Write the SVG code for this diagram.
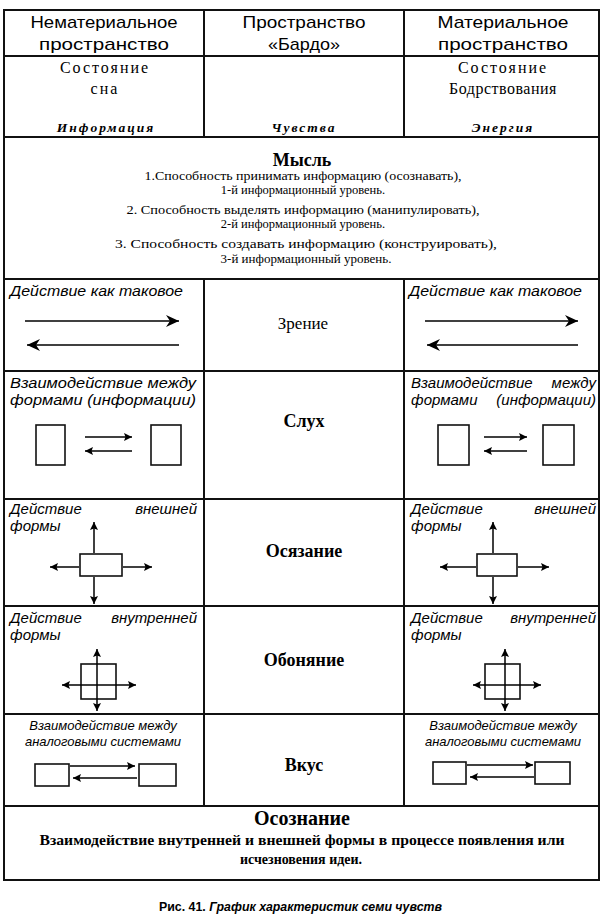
<svg xmlns="http://www.w3.org/2000/svg" width="604" height="916" viewBox="0 0 604 916">
<style>
.ln{stroke:#111;stroke-width:2;fill:none}
.ar{stroke:#000;stroke-width:1.5;fill:none}
.bx{stroke:#111;stroke-width:1.6;fill:#fff}
.hd{font-family:"Liberation Sans",Arial,sans-serif;font-size:17px;text-anchor:middle;fill:#000}
.st{font-family:"Liberation Serif","Times New Roman",serif;font-size:16px;text-anchor:middle;letter-spacing:2px;fill:#000}
.bi{font-family:"Liberation Serif","Times New Roman",serif;font-size:13.5px;font-weight:bold;font-style:italic;text-anchor:middle;letter-spacing:2px;fill:#000}
.se{font-family:"Liberation Serif","Times New Roman",serif;font-size:12px;text-anchor:middle;fill:#000}
.sb{font-family:"Liberation Serif","Times New Roman",serif;font-size:18px;font-weight:bold;text-anchor:middle;fill:#000}
.lb{font-family:"Liberation Sans",Arial,sans-serif;font-size:15px;font-style:italic;fill:#000}
.ls{font-family:"Liberation Sans",Arial,sans-serif;font-size:13px;font-style:italic;text-anchor:middle;fill:#000}
.cap{font-family:"Liberation Sans",Arial,sans-serif;font-size:13px;font-weight:bold;fill:#000}
</style>
<defs>
<marker id="big" markerUnits="userSpaceOnUse" markerWidth="14" markerHeight="12" refX="13" refY="6" orient="auto">
<path d="M0,0 L13,6 L0,12 L4,6 z" fill="#000"/>
</marker>
<marker id="sm" markerUnits="userSpaceOnUse" markerWidth="9" markerHeight="8" refX="8" refY="4" orient="auto">
<path d="M0,0 L8,4 L0,8 L1.5,4 z" fill="#000"/>
</marker>
</defs>
<rect width="604" height="916" fill="#fff"/>
<g id="grid">
<rect class="ln" x="4" y="10" width="595" height="870"/>
<line class="ln" x1="4" y1="56" x2="599" y2="56"/>
<line class="ln" x1="4" y1="137" x2="599" y2="137"/>
<line class="ln" x1="4" y1="279" x2="599" y2="279"/>
<line class="ln" x1="4" y1="371" x2="599" y2="371"/>
<line class="ln" x1="4" y1="499" x2="599" y2="499"/>
<line class="ln" x1="4" y1="606" x2="599" y2="606"/>
<line class="ln" x1="4" y1="714" x2="599" y2="714"/>
<line class="ln" x1="4" y1="806" x2="599" y2="806"/>
<line class="ln" x1="204" y1="10" x2="204" y2="137"/>
<line class="ln" x1="404" y1="10" x2="404" y2="137"/>
<line class="ln" x1="204" y1="279" x2="204" y2="806"/>
<line class="ln" x1="404" y1="279" x2="404" y2="806"/>
</g>
<g id="header">
<text class="hd" x="104" y="28" textLength="147" lengthAdjust="spacingAndGlyphs">Нематериальное</text>
<text class="hd" x="104" y="50" textLength="130" lengthAdjust="spacingAndGlyphs">пространство</text>
<text class="hd" x="304" y="28" textLength="123" lengthAdjust="spacingAndGlyphs">Пространство</text>
<text class="hd" x="304" y="50" textLength="72" lengthAdjust="spacingAndGlyphs">«Бардо»</text>
<text class="hd" x="503" y="28" textLength="131" lengthAdjust="spacingAndGlyphs">Материальное</text>
<text class="hd" x="503" y="50" textLength="130" lengthAdjust="spacingAndGlyphs">пространство</text>
</g>
<g id="states">
<text class="st" x="105" y="73">Состояние</text>
<text class="st" x="105" y="94">сна</text>
<text class="st" x="503" y="73">Состояние</text>
<text class="st" x="503" y="94" style="letter-spacing:0.5px">Бодрствования</text>
<text class="bi" x="106" y="132">Информация</text>
<text class="bi" x="304" y="132">Чувства</text>
<text class="bi" x="503" y="132">Энергия</text>
</g>
<g id="thought">
<text class="sb" x="302" y="166">Мысль</text>
<text class="se" x="303" y="180" textLength="317" lengthAdjust="spacingAndGlyphs">1.Способность принимать информацию (осознавать),</text>
<text class="se" x="303" y="194" style="font-size:12.5px">1-й информационный уровень.</text>
<text class="se" x="303" y="214" textLength="353" lengthAdjust="spacingAndGlyphs">2. Способность выделять информацию (манипулировать),</text>
<text class="se" x="303" y="228" style="font-size:12.5px">2-й информационный уровень.</text>
<text class="se" x="306" y="248" style="font-size:13px" textLength="382" lengthAdjust="spacingAndGlyphs">3. Способность создавать информацию (конструировать),</text>
<text class="se" x="306" y="263" style="font-size:13px">3-й  информационный уровень.</text>
</g>
<g id="vision">
<text class="lb" x="10" y="296" textLength="173" lengthAdjust="spacingAndGlyphs">Действие как таковое</text>
<text class="lb" x="409" y="296" textLength="173" lengthAdjust="spacingAndGlyphs">Действие как таковое</text>
<text class="st" x="303" y="329" style="letter-spacing:0;font-size:17px">Зрение</text>
</g>
<g id="hearing">
<text class="lb" x="10" y="388" textLength="186" lengthAdjust="spacingAndGlyphs">Взаимодействие между</text>
<text class="lb" x="10" y="405" textLength="186" lengthAdjust="spacingAndGlyphs">формами (информации)</text>
<text class="lb" x="411" y="388">Взаимодействие</text>
<text class="lb" x="596" y="388" text-anchor="end">между</text>
<text class="lb" x="411" y="405">формами</text>
<text class="lb" x="596" y="405" text-anchor="end">(информации)</text>
<text class="sb" x="304" y="427">Слух</text>
<rect class="bx" x="36" y="425" width="29" height="40"/>
<rect class="bx" x="151" y="425" width="30" height="40"/>
<rect class="bx" x="438" y="425" width="31" height="40"/>
<rect class="bx" x="543" y="425" width="31" height="40"/>
</g>
<g id="touch">
<text class="lb" x="10" y="514">Действие</text>
<text class="lb" x="197" y="514" text-anchor="end">внешней</text>
<text class="lb" x="10" y="531">формы</text>
<text class="lb" x="411" y="514">Действие</text>
<text class="lb" x="596" y="514" text-anchor="end">внешней</text>
<text class="lb" x="411" y="531">формы</text>
<text class="sb" x="304" y="557">Осязание</text>
<rect class="bx" x="80" y="554" width="42" height="22"/>
<rect class="bx" x="477" y="554" width="40" height="22"/>
</g>
<g id="smell">
<text class="lb" x="10" y="623">Действие</text>
<text class="lb" x="197" y="623" text-anchor="end">внутренней</text>
<text class="lb" x="10" y="640">формы</text>
<text class="lb" x="411" y="623">Действие</text>
<text class="lb" x="596" y="623" text-anchor="end">внутренней</text>
<text class="lb" x="411" y="640">формы</text>
<text class="sb" x="304" y="666">Обоняние</text>
<rect class="bx" x="81" y="664" width="35" height="35"/>
<rect class="bx" x="485" y="664" width="35" height="35"/>
</g>
<g id="taste">
<text class="ls" x="103" y="730">Взаимодействие между</text>
<text class="ls" x="103" y="746">аналоговыми системами</text>
<text class="ls" x="503" y="730">Взаимодействие между</text>
<text class="ls" x="503" y="746">аналоговыми системами</text>
<text class="sb" x="304" y="771">Вкус</text>
<rect class="bx" x="35" y="764" width="34" height="22"/>
<rect class="bx" x="139" y="764" width="37" height="22"/>
<rect class="bx" x="433" y="762" width="33" height="22"/>
<rect class="bx" x="535" y="762" width="35" height="22"/>
</g>
<g id="awareness">
<text class="sb" x="302" y="825" style="font-size:20px">Осознание</text>
<text class="sb" x="302" y="845" style="font-size:14px" textLength="525" lengthAdjust="spacingAndGlyphs">Взаимодействие  внутренней и внешней формы в процессе появления или</text>
<text class="sb" x="301" y="864" style="font-size:14px" textLength="122" lengthAdjust="spacingAndGlyphs">исчезновения идеи.</text>
</g>
<g id="connectors">
<line class="ar" x1="25" y1="321" x2="179" y2="321" marker-end="url(#big)"/>
<line class="ar" x1="179" y1="345" x2="27" y2="345" marker-end="url(#big)"/>
<line class="ar" x1="425" y1="321" x2="578" y2="321" marker-end="url(#big)"/>
<line class="ar" x1="578" y1="345" x2="427" y2="345" marker-end="url(#big)"/>
<line class="ar" x1="85" y1="437" x2="132" y2="437" marker-end="url(#sm)"/>
<line class="ar" x1="132" y1="451" x2="85" y2="451" marker-end="url(#sm)"/>
<line class="ar" x1="484" y1="437" x2="527" y2="437" marker-end="url(#sm)"/>
<line class="ar" x1="527" y1="451" x2="484" y2="451" marker-end="url(#sm)"/>
<line class="ar" x1="94" y1="553" x2="94" y2="522" marker-end="url(#sm)"/>
<line class="ar" x1="94" y1="577" x2="94" y2="604" marker-end="url(#sm)"/>
<line class="ar" x1="79" y1="567" x2="50" y2="567" marker-end="url(#sm)"/>
<line class="ar" x1="123" y1="567" x2="152" y2="567" marker-end="url(#sm)"/>
<line class="ar" x1="493" y1="553" x2="493" y2="522" marker-end="url(#sm)"/>
<line class="ar" x1="493" y1="577" x2="493" y2="604" marker-end="url(#sm)"/>
<line class="ar" x1="476" y1="567" x2="440" y2="567" marker-end="url(#sm)"/>
<line class="ar" x1="518" y1="567" x2="549" y2="567" marker-end="url(#sm)"/>
<line class="ar" x1="97" y1="680" x2="97" y2="649" marker-end="url(#sm)"/>
<line class="ar" x1="97" y1="680" x2="97" y2="711" marker-end="url(#sm)"/>
<line class="ar" x1="99" y1="685" x2="62" y2="685" marker-end="url(#sm)"/>
<line class="ar" x1="99" y1="685" x2="136" y2="685" marker-end="url(#sm)"/>
<line class="ar" x1="505" y1="680" x2="505" y2="649" marker-end="url(#sm)"/>
<line class="ar" x1="505" y1="680" x2="505" y2="711" marker-end="url(#sm)"/>
<line class="ar" x1="507" y1="685" x2="473" y2="685" marker-end="url(#sm)"/>
<line class="ar" x1="507" y1="685" x2="541" y2="685" marker-end="url(#sm)"/>
<line class="ar" x1="70" y1="766" x2="135" y2="766" marker-end="url(#sm)"/>
<line class="ar" x1="137" y1="778" x2="73" y2="778" marker-end="url(#sm)"/>
<line class="ar" x1="467" y1="765" x2="533" y2="765" marker-end="url(#sm)"/>
<line class="ar" x1="534" y1="777" x2="470" y2="777" marker-end="url(#sm)"/>
</g>
<g id="caption">
<text class="cap" x="159" y="911" textLength="283" lengthAdjust="spacingAndGlyphs">Рис. 41. <tspan font-style="italic">График характеристик семи чувств</tspan></text>
</g>
</svg>
